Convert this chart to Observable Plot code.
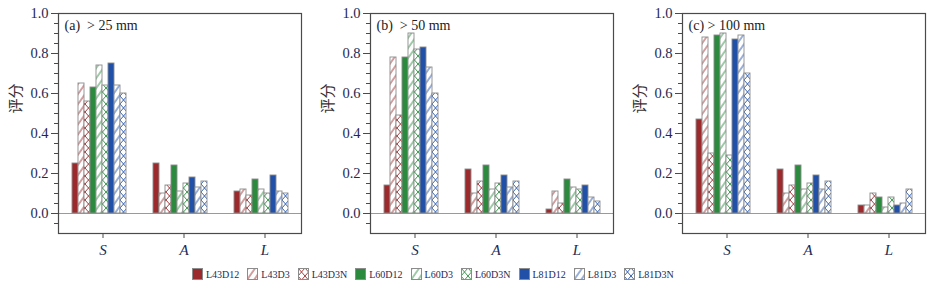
<!DOCTYPE html>
<html>
<head>
<meta charset="utf-8">
<script src="https://cdn.jsdelivr.net/npm/d3@7"></script>
<script src="https://cdn.jsdelivr.net/npm/@observablehq/plot@0.6"></script>
<style>
  body { margin: 0; background: #fff; width: 936px; height: 288px; overflow: hidden; }
  #row { display: flex; }
  #legend { display: flex; align-items: center; padding-left: 192px; height: 22px; margin-top: 3px;
    font-family: "Liberation Serif", "DejaVu Serif", "Times New Roman", serif; font-size: 10px; color: #1e2a55; }
  .item { display: flex; align-items: center; margin-right: 8px; }
  .item svg { margin-right: 3px; }
</style>
</head>
<body>
<svg width="0" height="0" style="position:absolute">
  <defs id="defs"></defs>
</svg>
<div id="row"></div>
<div id="legend"></div>
<script>
const categories = ["S", "A", "L"];
const series = ["L43D12", "L43D3", "L43D3N", "L60D12", "L60D3", "L60D3N", "L81D12", "L81D3", "L81D3N"];
const panelTitles = ["(a)\u00a0\u00a0> 25 mm", "(b)\u00a0\u00a0> 50 mm", "(c)\u00a0> 100 mm"];
const yTicks = [0, 0.2, 0.4, 0.6, 0.8, 1.0];
const yMinorTicks = [-0.05, 0.05, 0.1, 0.15, 0.25, 0.3, 0.35, 0.45, 0.5, 0.55, 0.65, 0.7, 0.75, 0.85, 0.9, 0.95];

// panel (a) > 25 mm
const a_S = [0.25, 0.65, 0.56, 0.63, 0.74, 0.64, 0.75, 0.64, 0.60];
const a_A = [0.25, 0.10, 0.14, 0.24, 0.11, 0.15, 0.18, 0.13, 0.16];
const a_L = [0.11, 0.12, 0.09, 0.17, 0.12, 0.10, 0.19, 0.11, 0.10];
// panel (b) > 50 mm
const b_S = [0.14, 0.78, 0.49, 0.78, 0.90, 0.82, 0.83, 0.73, 0.60];
const b_A = [0.22, 0.10, 0.16, 0.24, 0.12, 0.15, 0.19, 0.13, 0.16];
const b_L = [0.02, 0.11, 0.05, 0.17, 0.13, 0.12, 0.14, 0.08, 0.06];
// panel (c) > 100 mm
const c_S = [0.47, 0.88, 0.30, 0.89, 0.90, 0.29, 0.87, 0.89, 0.70];
const c_A = [0.22, 0.10, 0.14, 0.24, 0.12, 0.15, 0.19, 0.12, 0.16];
const c_L = [0.04, 0.04, 0.10, 0.08, 0.03, 0.08, 0.04, 0.05, 0.12];

const panels = [[a_S, a_A, a_L], [b_S, b_A, b_L], [c_S, c_A, c_L]];

const baseColors = {L43: "#9c2a2c", L60: "#2b8a3e", L81: "#2050a8"};
const outline = "#8c8c8c";

// build SVG patterns
const defs = d3.select("#defs");
for (const s of series) {
  const col = baseColors[s.slice(0, 3)];
  const kind = s.slice(3);
  if (kind === "D3") {
    const p = defs.append("pattern").attr("id", "p-" + s).attr("patternUnits", "userSpaceOnUse")
      .attr("width", 5.8).attr("height", 10).attr("patternTransform", "rotate(35)");
    p.append("rect").attr("width", 5.8).attr("height", 10).attr("fill", "#fff");
    p.append("line").attr("x1", 1).attr("x2", 1).attr("y1", 0).attr("y2", 10).attr("stroke", col).attr("stroke-width", 0.9);
  } else if (kind === "D3N") {
    const p = defs.append("pattern").attr("id", "p-" + s).attr("patternUnits", "userSpaceOnUse")
      .attr("width", 7).attr("height", 8);
    p.append("rect").attr("width", 7).attr("height", 8).attr("fill", "#fff");
    p.append("line").attr("x1", 0).attr("y1", 0).attr("x2", 7).attr("y2", 8).attr("stroke", col).attr("stroke-width", 0.9);
    p.append("line").attr("x1", 7).attr("y1", 0).attr("x2", 0).attr("y2", 8).attr("stroke", col).attr("stroke-width", 0.9);
  }
}
function fillFor(s) {
  return s.endsWith("D12") ? baseColors[s.slice(0, 3)] : `url(#p-${s})`;
}

const serif = '"Liberation Serif", "DejaVu Serif", "Times New Roman", serif';
const tickColor = "#1e2a55";
const W = 312, ML = 57, MR = 10;

panels.forEach((vals, pi) => {
  const rows = [];
  categories.forEach((cat, ci) => {
    series.forEach((s, si) => rows.push({cat, series: s, value: vals[ci][si]}));
  });
  const chart = Plot.plot({
    width: W, height: 260,
    marginLeft: ML, marginRight: MR, marginTop: 13, marginBottom: 27,
    style: {fontFamily: serif, fontSize: "14px", color: tickColor, background: "transparent", overflow: "visible"},
    fx: {domain: categories, padding: 0, label: null},
    x: {domain: series, paddingInner: 0, paddingOuter: 1.56, axis: null},
    y: {domain: [-0.1, 1.0], label: null},
    color: {type: "identity"},
    marks: [
      Plot.ruleY([0], {stroke: "#9a9a9a", strokeWidth: 1}),
      Plot.barY(rows, {fx: "cat", x: "series", y: "value", fill: d => fillFor(d.series),
        stroke: outline, strokeWidth: 0.9, inset: 0}),
      Plot.frame({stroke: "#4a4a4a", strokeWidth: 1.2, facet: "super"}),
      Plot.axisY({ticks: yTicks, tickFormat: d3.format(".1f"), tickSize: 7, tickPadding: 3, label: null, stroke: "#4a4a4a",
        fontFamily: serif, fontSize: 14.5}),
      Plot.axisY({ticks: yMinorTicks, tickFormat: () => "", tickSize: 4, label: null, stroke: "#4a4a4a"}),
      Plot.axisFx({anchor: "bottom", tickSize: 5, tickPadding: 6, dx: 4, label: null, fontStyle: "italic", fontSize: 15,
        fontFamily: serif, stroke: "#4a4a4a"}),
      Plot.text([panelTitles[pi]], {frameAnchor: "top-left", dx: 6, dy: 12, lineAnchor: "middle", textAnchor: "start",
        fontSize: 14, fontFamily: serif, fill: "#222", facet: "super"}),
      Plot.text([{fx: categories[0], y: 0.5}], {fx: "fx", y: "y", text: () => "评分", frameAnchor: "left",
        dx: 15 - ML, rotate: -90,
        fontFamily: "'Noto Sans CJK SC', sans-serif", fontSize: 15, fill: "#3a2e2e"})
    ]
  });
  document.getElementById("row").appendChild(chart);
});

// legend
const legend = d3.select("#legend");
for (const s of series) {
  const item = legend.append("div").attr("class", "item");
  const sv = item.append("svg").attr("width", 11).attr("height", 12);
  sv.append("rect").attr("x", 0.5).attr("y", 0.5).attr("width", 10).attr("height", 11)
    .attr("fill", fillFor(s)).attr("stroke", outline).attr("stroke-width", 1);
  item.append("span").text(s);
}
</script>
</body>
</html>
